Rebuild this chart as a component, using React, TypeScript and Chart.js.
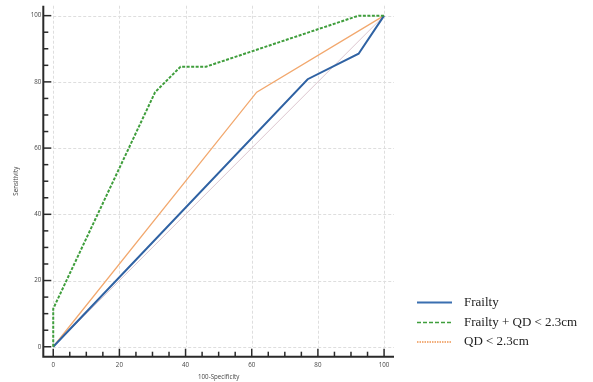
import React, { useEffect, useRef } from 'react';
import { Chart, registerables } from 'chart.js';

Chart.register(...registerables);

// ---- data ----
const SERIES_NAMES = ['Frailty', 'Frailty + QD < 2.3cm', 'QD < 2.3cm'];
const FRAILTY_X = [0, 76.9, 92.3, 100];
const FRAILTY_Y = [0, 80.8, 88.5, 100];
const COMBINED_X = [0, 0, 30.8, 38.5, 46.2, 92.3, 100];
const COMBINED_Y = [0, 11.5, 76.9, 84.6, 84.6, 100, 100];
const QD_X = [0, 61.5, 100];
const QD_Y = [0, 76.9, 100];
const DIAG_X = [0, 100];
const DIAG_Y = [0, 100];
const TICK_VALUES = [0, 5, 10, 15, 20, 25, 30, 35, 40, 45, 50, 55, 60, 65, 70, 75, 80, 85, 90, 95, 100];
const MAJOR_STEP = 20;
const AXIS_MIN = -3;
const AXIS_MAX = 103;
const X_TITLE = '100-Specificity';
const Y_TITLE = 'Sensitivity';

const COLORS = ['#2f62a3', '#3f9e3c', '#f2a86e'];
const LEGEND_COLORS = ['#3a6fb0', '#3f9e3c', '#ee9450'];
const DIAG_COLOR = '#dcc6cf';

const pts = (xs: number[], ys: number[]) => xs.map((x, i) => ({ x, y: ys[i] }));

const axesPlugin = {
  id: 'rocAxes',
  beforeDatasetsDraw(chart: any) {
    const { ctx, chartArea: a, scales } = chart;
    const x = scales.x;
    const y = scales.y;
    ctx.save();
    // grid
    ctx.strokeStyle = '#dedede';
    ctx.lineWidth = 1;
    ctx.setLineDash([3, 2]);
    for (const v of TICK_VALUES) {
      if (v % MAJOR_STEP !== 0) continue;
      const py = Math.round(y.getPixelForValue(v)) + 0.5;
      ctx.beginPath();
      ctx.moveTo(x.getPixelForValue(0), py);
      ctx.lineTo(a.right, py);
      ctx.stroke();
      const px = Math.round(x.getPixelForValue(v)) + 0.5;
      ctx.beginPath();
      ctx.moveTo(px, a.top);
      ctx.lineTo(px, y.getPixelForValue(0));
      ctx.stroke();
    }
    ctx.setLineDash([]);
    // axis lines
    ctx.strokeStyle = '#2a2a2a';
    ctx.lineWidth = 2;
    ctx.beginPath();
    ctx.moveTo(a.left, a.top);
    ctx.lineTo(a.left, a.bottom);
    ctx.lineTo(a.right, a.bottom);
    ctx.stroke();
    // inward ticks
    ctx.lineWidth = 1.5;
    for (const v of TICK_VALUES) {
      const major = v % MAJOR_STEP === 0;
      const len = major ? 8 : 5;
      const px = x.getPixelForValue(v);
      ctx.beginPath();
      ctx.moveTo(px, a.bottom);
      ctx.lineTo(px, a.bottom - len);
      ctx.stroke();
      const py = y.getPixelForValue(v);
      ctx.beginPath();
      ctx.moveTo(a.left, py);
      ctx.lineTo(a.left + len, py);
      ctx.stroke();
    }
    ctx.restore();
  },
  afterDraw(chart: any) {
    const { ctx } = chart;
    const rows = [302.5, 322.5, 342];
    const dashes = [[], [4, 2], [1.5, 1]];
    const widths = [2, 1.6, 1.6];
    ctx.save();
    for (let i = 0; i < SERIES_NAMES.length; i++) {
      ctx.strokeStyle = LEGEND_COLORS[i];
      ctx.lineWidth = widths[i];
      ctx.setLineDash(dashes[i]);
      ctx.beginPath();
      ctx.moveTo(417, rows[i]);
      ctx.lineTo(452, rows[i]);
      ctx.stroke();
      ctx.setLineDash([]);
      ctx.fillStyle = '#222';
      ctx.font = '13px "Liberation Serif", "Times New Roman", serif';
      ctx.textBaseline = 'middle';
      ctx.textAlign = 'left';
      ctx.fillText(SERIES_NAMES[i], 464, rows[i]);
    }
    ctx.restore();
  },
};

const tickFont = { family: '"Open Sans", "DejaVu Sans", sans-serif', size: 6.2 };

export default function App() {
  const ref = useRef<HTMLCanvasElement | null>(null);
  useEffect(() => {
    if (!ref.current) return;
    const chart = new Chart(ref.current, {
      type: 'line',
      data: {
        datasets: [
          {
            label: 'diag',
            data: pts(DIAG_X, DIAG_Y),
            borderColor: DIAG_COLOR,
            borderWidth: 1,
            pointRadius: 0,
            order: 4,
          },
          {
            label: SERIES_NAMES[2],
            data: pts(QD_X, QD_Y),
            borderColor: COLORS[2],
            borderWidth: 1.3,
            pointRadius: 0,
            order: 3,
          },
          {
            label: SERIES_NAMES[0],
            data: pts(FRAILTY_X, FRAILTY_Y),
            borderColor: COLORS[0],
            borderWidth: 2,
            pointRadius: 0,
            order: 2,
          },
          {
            label: SERIES_NAMES[1],
            data: pts(COMBINED_X, COMBINED_Y),
            borderColor: COLORS[1],
            borderWidth: 2,
            borderDash: [3, 1.5],
            pointRadius: 0,
            order: 1,
          },
        ],
      },
      options: {
        animation: false,
        responsive: false,
        devicePixelRatio: 1,
        layout: { padding: { top: 5, right: 199, bottom: 0, left: 0 } },
        plugins: { legend: { display: false }, tooltip: { enabled: false } },
        elements: { line: { tension: 0 } },
        scales: {
          x: {
            type: 'linear',
            min: AXIS_MIN,
            max: AXIS_MAX,
            grid: { display: false, drawTicks: false, tickLength: 0 },
            border: { display: false },
            afterBuildTicks: (s: any) => {
              s.ticks = TICK_VALUES.map((v) => ({ value: v }));
            },
            afterFit: (s: any) => {
              s.height = 25.3;
            },
            ticks: {
              autoSkip: false,
              maxRotation: 0,
              padding: 4.5,
              color: '#444',
              font: tickFont,
              callback: (v: any) => (Number(v) % MAJOR_STEP === 0 ? String(v) : ''),
            },
            title: {
              display: true,
              text: X_TITLE,
              color: '#444',
              font: tickFont,
              padding: { top: 0, bottom: 0.7 },
            },
          },
          y: {
            type: 'linear',
            min: AXIS_MIN,
            max: AXIS_MAX,
            grid: { display: false, drawTicks: false, tickLength: 0 },
            border: { display: false },
            afterBuildTicks: (s: any) => {
              s.ticks = TICK_VALUES.map((v) => ({ value: v }));
            },
            afterFit: (s: any) => {
              s.width = 43.3;
            },
            ticks: {
              autoSkip: false,
              padding: 2,
              color: '#444',
              font: tickFont,
              callback: (v: any) => (Number(v) % MAJOR_STEP === 0 ? String(v) : ''),
            },
            title: {
              display: true,
              text: Y_TITLE,
              color: '#444',
              font: tickFont,
              padding: { top: 12.4, bottom: 0 },
            },
          },
        },
      },
      plugins: [axesPlugin],
    } as any);
    return () => chart.destroy();
  }, []);
  return (
    <div style={{ position: 'fixed', left: 0, top: 0, width: 593, height: 382, background: '#fff' }}>
      <canvas ref={ref} width={593} height={382} style={{ display: 'block' }} />
    </div>
  );
}
